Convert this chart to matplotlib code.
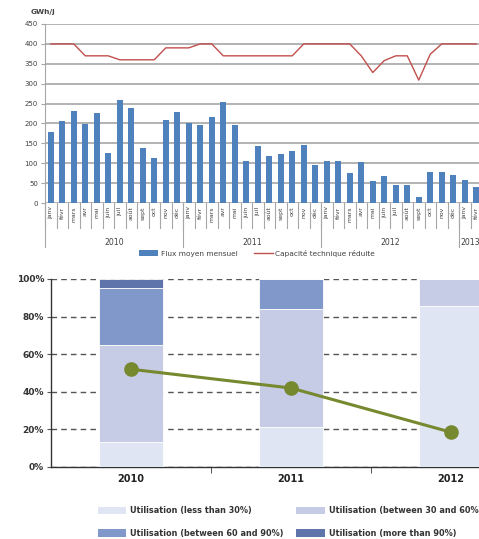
import numpy as np
import matplotlib
matplotlib.use("Agg")
import matplotlib.pyplot as plt
from matplotlib.patches import Patch
from matplotlib.lines import Line2D
from matplotlib.transforms import blended_transform_factory

# --- top chart data: monthly flows and reduced technical capacity (GWh/j)
months_fr = ["janv", "févr", "mars", "avr", "mai", "juin",
             "juil", "août", "sept", "oct", "nov", "déc"]
years_top = ["2010", "2011", "2012", "2013"]
months_per_year = [12, 12, 12, 2]

flux = [179, 206, 232, 199, 227, 125, 259, 238, 138, 113, 208, 228,
        202, 195, 215, 254, 195, 106, 143, 119, 122, 131, 145, 96,
        106, 106, 76, 102, 55, 67, 45, 45, 15, 77, 79, 71,
        57, 39]
capacite = [400, 400, 400, 370, 370, 370, 360, 360, 360, 360, 390, 390,
            390, 400, 400, 370, 370, 370, 370, 370, 370, 370, 400, 400,
            400, 400, 400, 370, 328, 358, 370, 370, 309, 374, 400, 400,
            400, 400]

# --- bottom chart data: utilisation shares (%)
util_years = ["2010", "2011", "2012"]
less30 = [13.5, 21.5, 85.5]
b30_60 = [51.5, 62.5, 14.5]
b60_90 = [30.0, 16.0, 0.0]
more90 = [5.0, 0.0, 0.0]
avg_util = [52, 42, 18.5]

W, H = 479, 539
fig = plt.figure(figsize=(W / 100, H / 100), dpi=100)
fig.patch.set_facecolor("white")

# ---------------- top chart ----------------
ax1 = fig.add_axes([45 / W, 1 - 203 / H, (482 - 45) / W, 179 / H])
x = np.arange(len(flux))
month_labels = []
for n in months_per_year:
    month_labels += months_fr[:n]

ax1.bar(x, flux, width=0.5, color="#4f81bd", zorder=3)
ax1.plot(x, capacite, color="#c0504d", lw=1.0, zorder=4)

ax1.set_xlim(-0.5, len(flux) - 0.5)
ax1.set_ylim(0, 450)
ax1.set_yticks(range(0, 451, 50))
ax1.yaxis.grid(True, color="#a6a6a6", lw=1.2)
ax1.set_axisbelow(True)
ax1.tick_params(axis="y", labelsize=5, colors="#404040", length=3,
                width=0.8, pad=2)
ax1.tick_params(axis="y", color="#a6a6a6")
ax1.set_xticks(x)
ax1.set_xticklabels(month_labels, rotation=90, fontsize=4.4, color="#404040")
ax1.tick_params(axis="x", length=0, pad=2.5)
for s in ["top", "right", "bottom"]:
    ax1.spines[s].set_visible(False)
ax1.spines["left"].set_color("#a6a6a6")

trans = blended_transform_factory(ax1.transData, ax1.transAxes)
for b in np.arange(-0.5, len(flux), 1.0):
    ax1.plot([b, b], [0, -0.14], transform=trans, clip_on=False,
             color="#a6a6a6", lw=0.8)
start = 0
for yr, n in zip(years_top, months_per_year):
    ax1.plot([start - 0.5, start - 0.5], [0, -0.245], transform=trans,
             clip_on=False, color="#a6a6a6", lw=0.8)
    ax1.text(start + (n - 1) / 2, -0.218, yr, transform=trans,
             ha="center", va="center", fontsize=5.6, color="#404040")
    start += n

fig.text(31 / W, 1 - 12 / H, "GWh/j", fontsize=5.3, fontweight="bold",
         color="#404040", va="center")

top_handles = [Patch(facecolor="#4f81bd", edgecolor="none"),
               Line2D([], [], color="#c0504d", lw=1.0)]
fig.legend(top_handles, ["Flux moyen mensuel", "Capacité technique réduite"],
           loc="center", bbox_to_anchor=(257 / W, 1 - 253 / H), ncol=2,
           frameon=False, fontsize=5.3, handlelength=2.6, handleheight=0.7,
           handletextpad=0.3, columnspacing=2.2, borderpad=0,
           labelcolor="#404040")

# ---------------- bottom chart ----------------
ax2 = fig.add_axes([51 / W, 1 - 467 / H, 480 / W, 188 / H])
xi = np.arange(len(util_years))
colors = ["#dfe5f3", "#c6cbe6", "#8198cb", "#5f74ab"]
series = [less30, b30_60, b60_90, more90]
names = ["Utilisation (less than 30%)", "Utilisation (between 30 and 60%)",
         "Utilisation (between 60 and 90%)", "Utilisation (more than 90%)"]
bottom = np.zeros(len(util_years))
for vals, c in zip(series, colors):
    ax2.bar(xi, vals, bottom=bottom, width=0.4, color=c,
            edgecolor="white", linewidth=0.6, zorder=3)
    bottom += np.array(vals)

ax2.plot(xi, avg_util, color="#77892f", lw=2.2, marker="o", markersize=9.5,
         zorder=5)

ax2.set_xlim(-0.5, len(util_years) - 0.5)
ax2.set_ylim(0, 100)
ax2.set_yticks(range(0, 101, 20))
ax2.set_yticklabels([f"{v}%" for v in range(0, 101, 20)], fontsize=6.5,
                    fontweight="bold", color="#333333")
ax2.yaxis.grid(True, color="#555555", lw=1.0, ls=(0, (4, 3)))
ax2.set_axisbelow(True)
ax2.tick_params(axis="y", length=3, color="#555555", pad=2)
ax2.set_xticks(xi)
ax2.set_xticklabels(util_years, fontsize=7, fontweight="bold", color="#222222")
ax2.tick_params(axis="x", which="major", length=0, pad=5)
ax2.set_xticks(xi[:-1] + 0.5, minor=True)
ax2.tick_params(axis="x", which="minor", length=4, color="#333333")
for s in ["top", "right"]:
    ax2.spines[s].set_visible(False)
for s in ["left", "bottom"]:
    ax2.spines[s].set_color("#333333")
    ax2.spines[s].set_linewidth(1.0)

leg_handles = [Patch(facecolor=c, edgecolor="none") for c in colors]
order = [0, 2, 1, 3]
fig.legend([leg_handles[i] for i in order], [names[i] for i in order],
           loc="upper left", bbox_to_anchor=(98 / W, 1 - 506 / H), ncol=2,
           frameon=False, handlelength=3.5, handleheight=1.0,
           handletextpad=0.5, columnspacing=1.5, labelspacing=1.7,
           borderpad=0, borderaxespad=0,
           prop={"weight": "bold", "size": 5.85}, labelcolor="#333333")

fig.savefig("out.png", dpi=100)
